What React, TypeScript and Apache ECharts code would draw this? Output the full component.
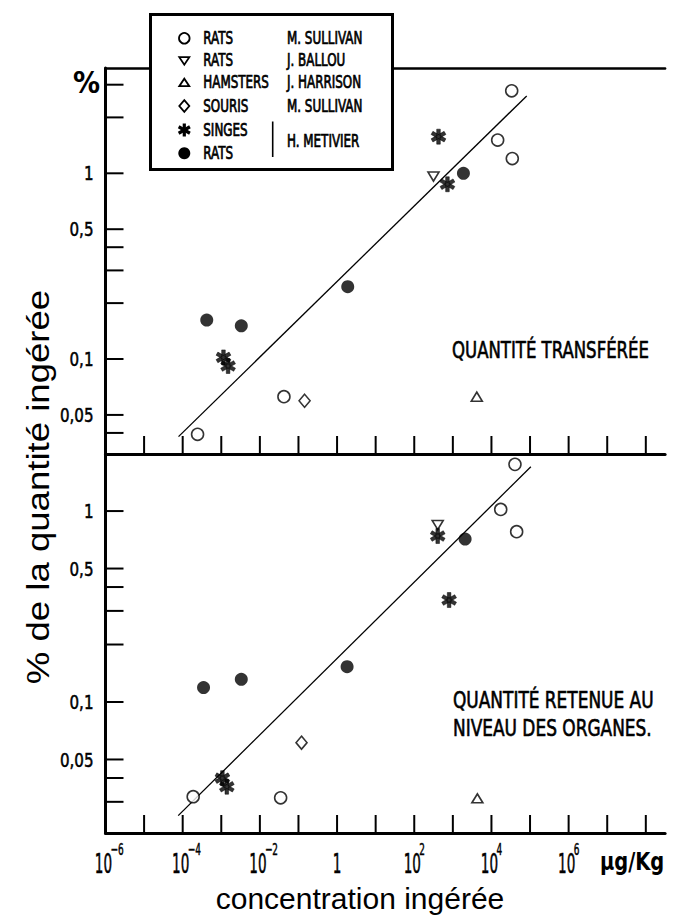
import React, { useEffect, useRef } from 'react';
import * as echarts from 'echarts';

// ---------- axis ranges & ticks ----------
const X_MIN = 1e-6;
const X_MAX = 3.16e8;
const Y_TOP_MIN = 0.0308;
const Y_TOP_MAX = 3.69;
const Y_BOTTOM_MIN = 0.0206;
const Y_BOTTOM_MAX = 1.99;

const X_TICKS = [1e-5, 1e-4, 1e-3, 1e-2, 1e-1, 1, 10, 100, 1e3, 1e4, 1e5, 1e6, 1e7, 1e8];
const X_LABEL_EXPONENTS = [-6, -4, -2, 0, 2, 4, 6];
const Y_TICKS_TOP = [3, 2, 1, 0.5, 0.4, 0.3, 0.2, 0.1, 0.05, 0.04];
const Y_TICKS_BOTTOM = [1, 0.5, 0.4, 0.3, 0.2, 0.1, 0.05, 0.04, 0.03];
const Y_LABELS = [1, 0.5, 0.1, 0.05];

// ---------- top panel: quantité transférée ----------
const TOP_RATS_SULLIVAN = [[2.43e-4, 0.0393], [0.042, 0.0627], [14500, 1.51], [33500, 2.78], [34700, 1.2]];
const TOP_RATS_BALLOU = [[315, 0.96]];
const TOP_HAMSTERS_HARRISON = [[4170, 0.0627]];
const TOP_SOURIS_SULLIVAN = [[0.144, 0.0596]];
const TOP_SINGES_METIVIER = [[1.14e-3, 0.102], [1.5e-3, 0.0917], [425, 1.575], [725, 0.873]];
const TOP_RATS_METIVIER = [[4.2e-4, 0.162], [3.3e-3, 0.151], [1.89, 0.245], [1880, 1.0]];
const TOP_FIT = [[7.8e-5, 0.0382], [8.2e4, 2.61]];

// ---------- bottom panel: quantité retenue au niveau des organes ----------
const BOTTOM_RATS_SULLIVAN = [[1.87e-4, 0.0319], [0.0345, 0.0315], [17400, 1.02], [40700, 1.756], [45000, 0.78]];
const BOTTOM_RATS_BALLOU = [[405, 0.845]];
const BOTTOM_HAMSTERS_HARRISON = [[4320, 0.0313]];
const BOTTOM_SOURIS_SULLIVAN = [[0.12, 0.0612]];
const BOTTOM_SINGES_METIVIER = [[1.07e-3, 0.0399], [1.39e-3, 0.036], [405, 0.74], [800, 0.342]];
const BOTTOM_RATS_METIVIER = [[3.47e-4, 0.119], [3.3e-3, 0.1315], [1.82, 0.153], [2080, 0.713]];
const BOTTOM_FIT = [[7.65e-5, 0.0254], [1.05e5, 1.706]];

// legend entries
const LEGEND_SPECIES = ['RATS', 'RATS', 'HAMSTERS', 'SOURIS', 'SINGES', 'RATS'];
const LEGEND_AUTHORS = ['M. SULLIVAN', 'J. BALLOU', 'J. HARRISON', 'M. SULLIVAN'];
const LEGEND_AUTHOR_GROUP = 'H. METIVIER';

const NARROW = "'Liberation Sans Narrow', 'Arial Narrow', 'DejaVu Sans Condensed', sans-serif";
const SANS = "'Liberation Sans', Arial, sans-serif";

const STAR_PATH =
  'path://M7.6 0 L12.4 0 L12.4 20 L7.6 20 Z M0.14 7.078 L2.54 2.922 L19.86 12.922 L17.46 17.078 Z M17.46 2.922 L19.86 7.078 L2.54 17.078 L0.14 12.922 Z';

const OPEN = { color: '#fff', borderColor: '#000', borderWidth: 1.6 };
const SYMBOLS: Record<string, any> = {
  openCircle: { symbol: 'circle', symbolSize: 12, itemStyle: OPEN },
  triDown: { symbol: 'triangle', symbolSize: [11, 9], symbolRotate: 180, itemStyle: OPEN },
  triUp: { symbol: 'triangle', symbolSize: [11, 9], itemStyle: OPEN },
  diamond: { symbol: 'diamond', symbolSize: [11, 13], itemStyle: OPEN },
  star: { symbol: STAR_PATH, symbolSize: 15, symbolKeepAspect: true, itemStyle: { color: '#000', borderColor: '#000', borderWidth: 0.6 } },
  dot: { symbol: 'circle', symbolSize: 13, itemStyle: { color: '#000' } },
};

const TICK_LEN = 18;

function scatter(name: string, data: number[][], panel: number, sym: string) {
  return {
    type: 'scatter',
    name,
    xAxisIndex: panel === 0 ? 0 : 2,
    yAxisIndex: panel,
    data,
    z: 4,
    ...SYMBOLS[sym],
  };
}

function fitLine(data: number[][], panel: number) {
  return {
    type: 'line',
    name: panel === 0 ? 'droite transfert' : 'droite retention',
    xAxisIndex: panel === 0 ? 0 : 2,
    yAxisIndex: panel,
    data,
    symbol: 'none',
    lineStyle: { color: '#000', width: 1.3 },
    z: 3,
  };
}

function xTicks(panel: number, yMin: number) {
  return {
    type: 'custom',
    coordinateSystem: 'cartesian2d',
    xAxisIndex: panel === 0 ? 0 : 2,
    yAxisIndex: panel,
    silent: true,
    data: X_TICKS.map((v) => [v, yMin]),
    renderItem: (params: any, api: any) => {
      const p = api.coord([api.value(0), api.value(1)]);
      return {
        type: 'line',
        shape: { x1: p[0], y1: p[1], x2: p[0], y2: p[1] - TICK_LEN },
        style: { stroke: '#000', lineWidth: 2 },
      };
    },
  };
}

function yTicks(panel: number, ticks: number[]) {
  return {
    type: 'custom',
    coordinateSystem: 'cartesian2d',
    xAxisIndex: panel === 0 ? 0 : 2,
    yAxisIndex: panel,
    silent: true,
    data: ticks.map((v) => [X_MIN, v]),
    renderItem: (params: any, api: any) => {
      const p = api.coord([api.value(0), api.value(1)]);
      return {
        type: 'line',
        shape: { x1: p[0], y1: p[1], x2: p[0] + TICK_LEN, y2: p[1] },
        style: { stroke: '#000', lineWidth: 2 },
      };
    },
  };
}

function yLabels(panel: number) {
  return {
    type: 'custom',
    coordinateSystem: 'cartesian2d',
    xAxisIndex: panel === 0 ? 0 : 2,
    yAxisIndex: panel,
    silent: true,
    data: Y_LABELS.map((v) => [X_MIN, v]),
    renderItem: (params: any, api: any) => {
      const v = api.value(1);
      const p = api.coord([api.value(0), v]);
      return {
        type: 'text',
        x: p[0] - 12,
        y: p[1],
        scaleX: 0.84,
        style: {
          text: String(v).replace('.', ','),
          fill: '#000',
          stroke: '#000',
          lineWidth: 0.5,
          fontFamily: NARROW,
          fontSize: 20,
          textAlign: 'right',
          textVerticalAlign: 'middle',
        },
      };
    },
  };
}

function xLabels() {
  return {
    type: 'custom',
    coordinateSystem: 'cartesian2d',
    xAxisIndex: 2,
    yAxisIndex: 1,
    silent: true,
    data: X_LABEL_EXPONENTS.map((e) => [Math.pow(10, e), Y_BOTTOM_MIN]),
    renderItem: (params: any, api: any) => {
      const v = api.value(0);
      const p = api.coord([v, api.value(1)]);
      const e = Math.round(Math.log10(v));
      const base = {
        fill: '#000',
        stroke: '#000',
        lineWidth: 0.5,
        fontFamily: NARROW,
        fontSize: 26,
        textAlign: 'center',
        textVerticalAlign: 'middle',
      };
      if (e === 0) {
        return { type: 'text', x: p[0], y: p[1] + 31, scaleX: 0.58, style: { ...base, text: '1' } };
      }
      return {
        type: 'group',
        children: [
          { type: 'text', x: p[0] - 2, y: p[1] + 31, scaleX: 0.58, style: { ...base, text: '10' } },
          {
            type: 'text',
            x: p[0] + 5,
            y: p[1] + 17,
            scaleX: 0.62,
            style: { ...base, fontSize: 16, textAlign: 'left', text: (e < 0 ? '−' : '') + Math.abs(e) },
          },
        ],
      };
    },
  };
}

function txt(x: number, y: number, text: string, o: any = {}) {
  return {
    type: 'text',
    x,
    y,
    z: o.z ?? 101,
    rotation: o.rotation ?? 0,
    scaleX: o.scaleX ?? 1,
    style: {
      text,
      fill: '#000',
      stroke: o.stroke ? '#000' : undefined,
      lineWidth: o.stroke ?? 0,
      fontFamily: o.family ?? NARROW,
      fontSize: o.size ?? 17,
      fontWeight: o.weight ?? 'normal',
      textAlign: o.align ?? 'left',
      textVerticalAlign: 'middle',
    },
  };
}

export default function App() {
  const ref = useRef<HTMLDivElement>(null);

  useEffect(() => {
    if (!ref.current) return;
    const chart = echarts.init(ref.current, undefined, { renderer: 'svg' });

    const axisLineX = (gridIndex: number, position: string, width: number) => ({
      type: 'log',
      gridIndex,
      position,
      min: X_MIN,
      max: X_MAX,
      axisLine: { show: true, onZero: false, lineStyle: { color: '#000', width } },
      axisTick: { show: false },
      axisLabel: { show: false },
      splitLine: { show: false },
    });
    const axisLineY = (gridIndex: number, min: number, max: number) => ({
      type: 'log',
      gridIndex,
      min,
      max,
      axisLine: { show: true, onZero: false, lineStyle: { color: '#000', width: 3 } },
      axisTick: { show: false },
      axisLabel: { show: false },
      splitLine: { show: false },
    });

    // legend graphic
    const LX = 184.3;
    const rows = [38.3, 60.7, 82.7, 106, 130, 153.3];
    const legend: any[] = [
      {
        type: 'rect',
        z: 100,
        shape: { x: 150.5, y: 14.5, width: 242, height: 155 },
        style: { fill: '#fff', stroke: '#000', lineWidth: 3 },
      },
      { type: 'circle', z: 101, shape: { cx: LX, cy: rows[0], r: 5.3 }, style: { fill: '#fff', stroke: '#000', lineWidth: 1.8 } },
      {
        type: 'polygon',
        z: 101,
        shape: { points: [[LX - 5, rows[1] - 3.5], [LX + 5, rows[1] - 3.5], [LX, rows[1] + 4]] },
        style: { fill: '#fff', stroke: '#000', lineWidth: 1.8 },
      },
      {
        type: 'polygon',
        z: 101,
        shape: { points: [[LX - 5, rows[2] + 3.5], [LX + 5, rows[2] + 3.5], [LX, rows[2] - 4]] },
        style: { fill: '#fff', stroke: '#000', lineWidth: 1.8 },
      },
      {
        type: 'polygon',
        z: 101,
        shape: { points: [[LX, rows[3] - 5.8], [LX + 5, rows[3]], [LX, rows[3] + 5.8], [LX - 5, rows[3]]] },
        style: { fill: '#fff', stroke: '#000', lineWidth: 1.8 },
      },
      ...[90, 30, 150].map((deg) => {
        const a = (deg * Math.PI) / 180;
        const r = 6.5;
        return {
          type: 'line',
          z: 101,
          shape: { x1: LX - r * Math.cos(a), y1: rows[4] - r * Math.sin(a), x2: LX + r * Math.cos(a), y2: rows[4] + r * Math.sin(a) },
          style: { stroke: '#000', lineWidth: 3.2 },
        };
      }),
      { type: 'circle', z: 101, shape: { cx: LX, cy: rows[5], r: 6 }, style: { fill: '#000' } },
      ...LEGEND_SPECIES.map((s, i) => txt(203.3, rows[i], s, { scaleX: 0.78, stroke: 0.7 })),
      ...LEGEND_AUTHORS.map((s, i) => txt(287, rows[i], s, { scaleX: 0.78, stroke: 0.7 })),
      txt(287, 141, LEGEND_AUTHOR_GROUP, { scaleX: 0.78, stroke: 0.7 }),
      {
        type: 'line',
        z: 101,
        shape: { x1: 272.7, y1: 121.5, x2: 272.7, y2: 157 },
        style: { stroke: '#000', lineWidth: 1.6 },
      },
    ];

    const titles: any[] = [
      txt(86.5, 82, '%', { size: 30, weight: 'bold', align: 'center' }),
      txt(38, 487, '% de la quantité ingérée', { family: SANS, size: 31, align: 'center', rotation: Math.PI / 2, scaleX: 1.18 }),
      txt(360, 898, 'concentration ingérée', { family: SANS, size: 30, align: 'center' }),
      txt(600, 862, 'µg/Kg', { size: 24, weight: 'bold', scaleX: 0.9 }),
      txt(452, 350, 'QUANTITÉ TRANSFÉRÉE', { size: 23, scaleX: 0.8, stroke: 0.6 }),
      txt(453, 700, 'QUANTITÉ RETENUE AU', { size: 23, scaleX: 0.82, stroke: 0.6 }),
      txt(453, 728, 'NIVEAU DES ORGANES.', { size: 23, scaleX: 0.82, stroke: 0.6 }),
    ];

    chart.setOption({
      animation: false,
      backgroundColor: '#fff',
      grid: [
        { left: 105.5, top: 68, width: 559.6, height: 386 },
        { left: 105.5, top: 454, width: 559.6, height: 379 },
      ],
      xAxis: [axisLineX(0, 'bottom', 3), axisLineX(0, 'top', 2.5), axisLineX(1, 'bottom', 3)],
      yAxis: [axisLineY(0, Y_TOP_MIN, Y_TOP_MAX), axisLineY(1, Y_BOTTOM_MIN, Y_BOTTOM_MAX)],
      graphic: [...legend, ...titles],
      series: [
        xTicks(0, Y_TOP_MIN),
        xTicks(1, Y_BOTTOM_MIN),
        yTicks(0, Y_TICKS_TOP),
        yTicks(1, Y_TICKS_BOTTOM),
        yLabels(0),
        yLabels(1),
        xLabels(),
        fitLine(TOP_FIT, 0),
        fitLine(BOTTOM_FIT, 1),
        scatter('RATS (M. SULLIVAN)', TOP_RATS_SULLIVAN, 0, 'openCircle'),
        scatter('RATS (J. BALLOU)', TOP_RATS_BALLOU, 0, 'triDown'),
        scatter('HAMSTERS (J. HARRISON)', TOP_HAMSTERS_HARRISON, 0, 'triUp'),
        scatter('SOURIS (M. SULLIVAN)', TOP_SOURIS_SULLIVAN, 0, 'diamond'),
        scatter('SINGES (H. METIVIER)', TOP_SINGES_METIVIER, 0, 'star'),
        scatter('RATS (H. METIVIER)', TOP_RATS_METIVIER, 0, 'dot'),
        scatter('RATS (M. SULLIVAN)', BOTTOM_RATS_SULLIVAN, 1, 'openCircle'),
        scatter('RATS (J. BALLOU)', BOTTOM_RATS_BALLOU, 1, 'triDown'),
        scatter('HAMSTERS (J. HARRISON)', BOTTOM_HAMSTERS_HARRISON, 1, 'triUp'),
        scatter('SOURIS (M. SULLIVAN)', BOTTOM_SOURIS_SULLIVAN, 1, 'diamond'),
        scatter('SINGES (H. METIVIER)', BOTTOM_SINGES_METIVIER, 1, 'star'),
        scatter('RATS (H. METIVIER)', BOTTOM_RATS_METIVIER, 1, 'dot'),
      ],
    });

    return () => chart.dispose();
  }, []);

  return <div ref={ref} style={{ position: 'fixed', left: 0, top: 0, width: 690, height: 921 }} />;
}
